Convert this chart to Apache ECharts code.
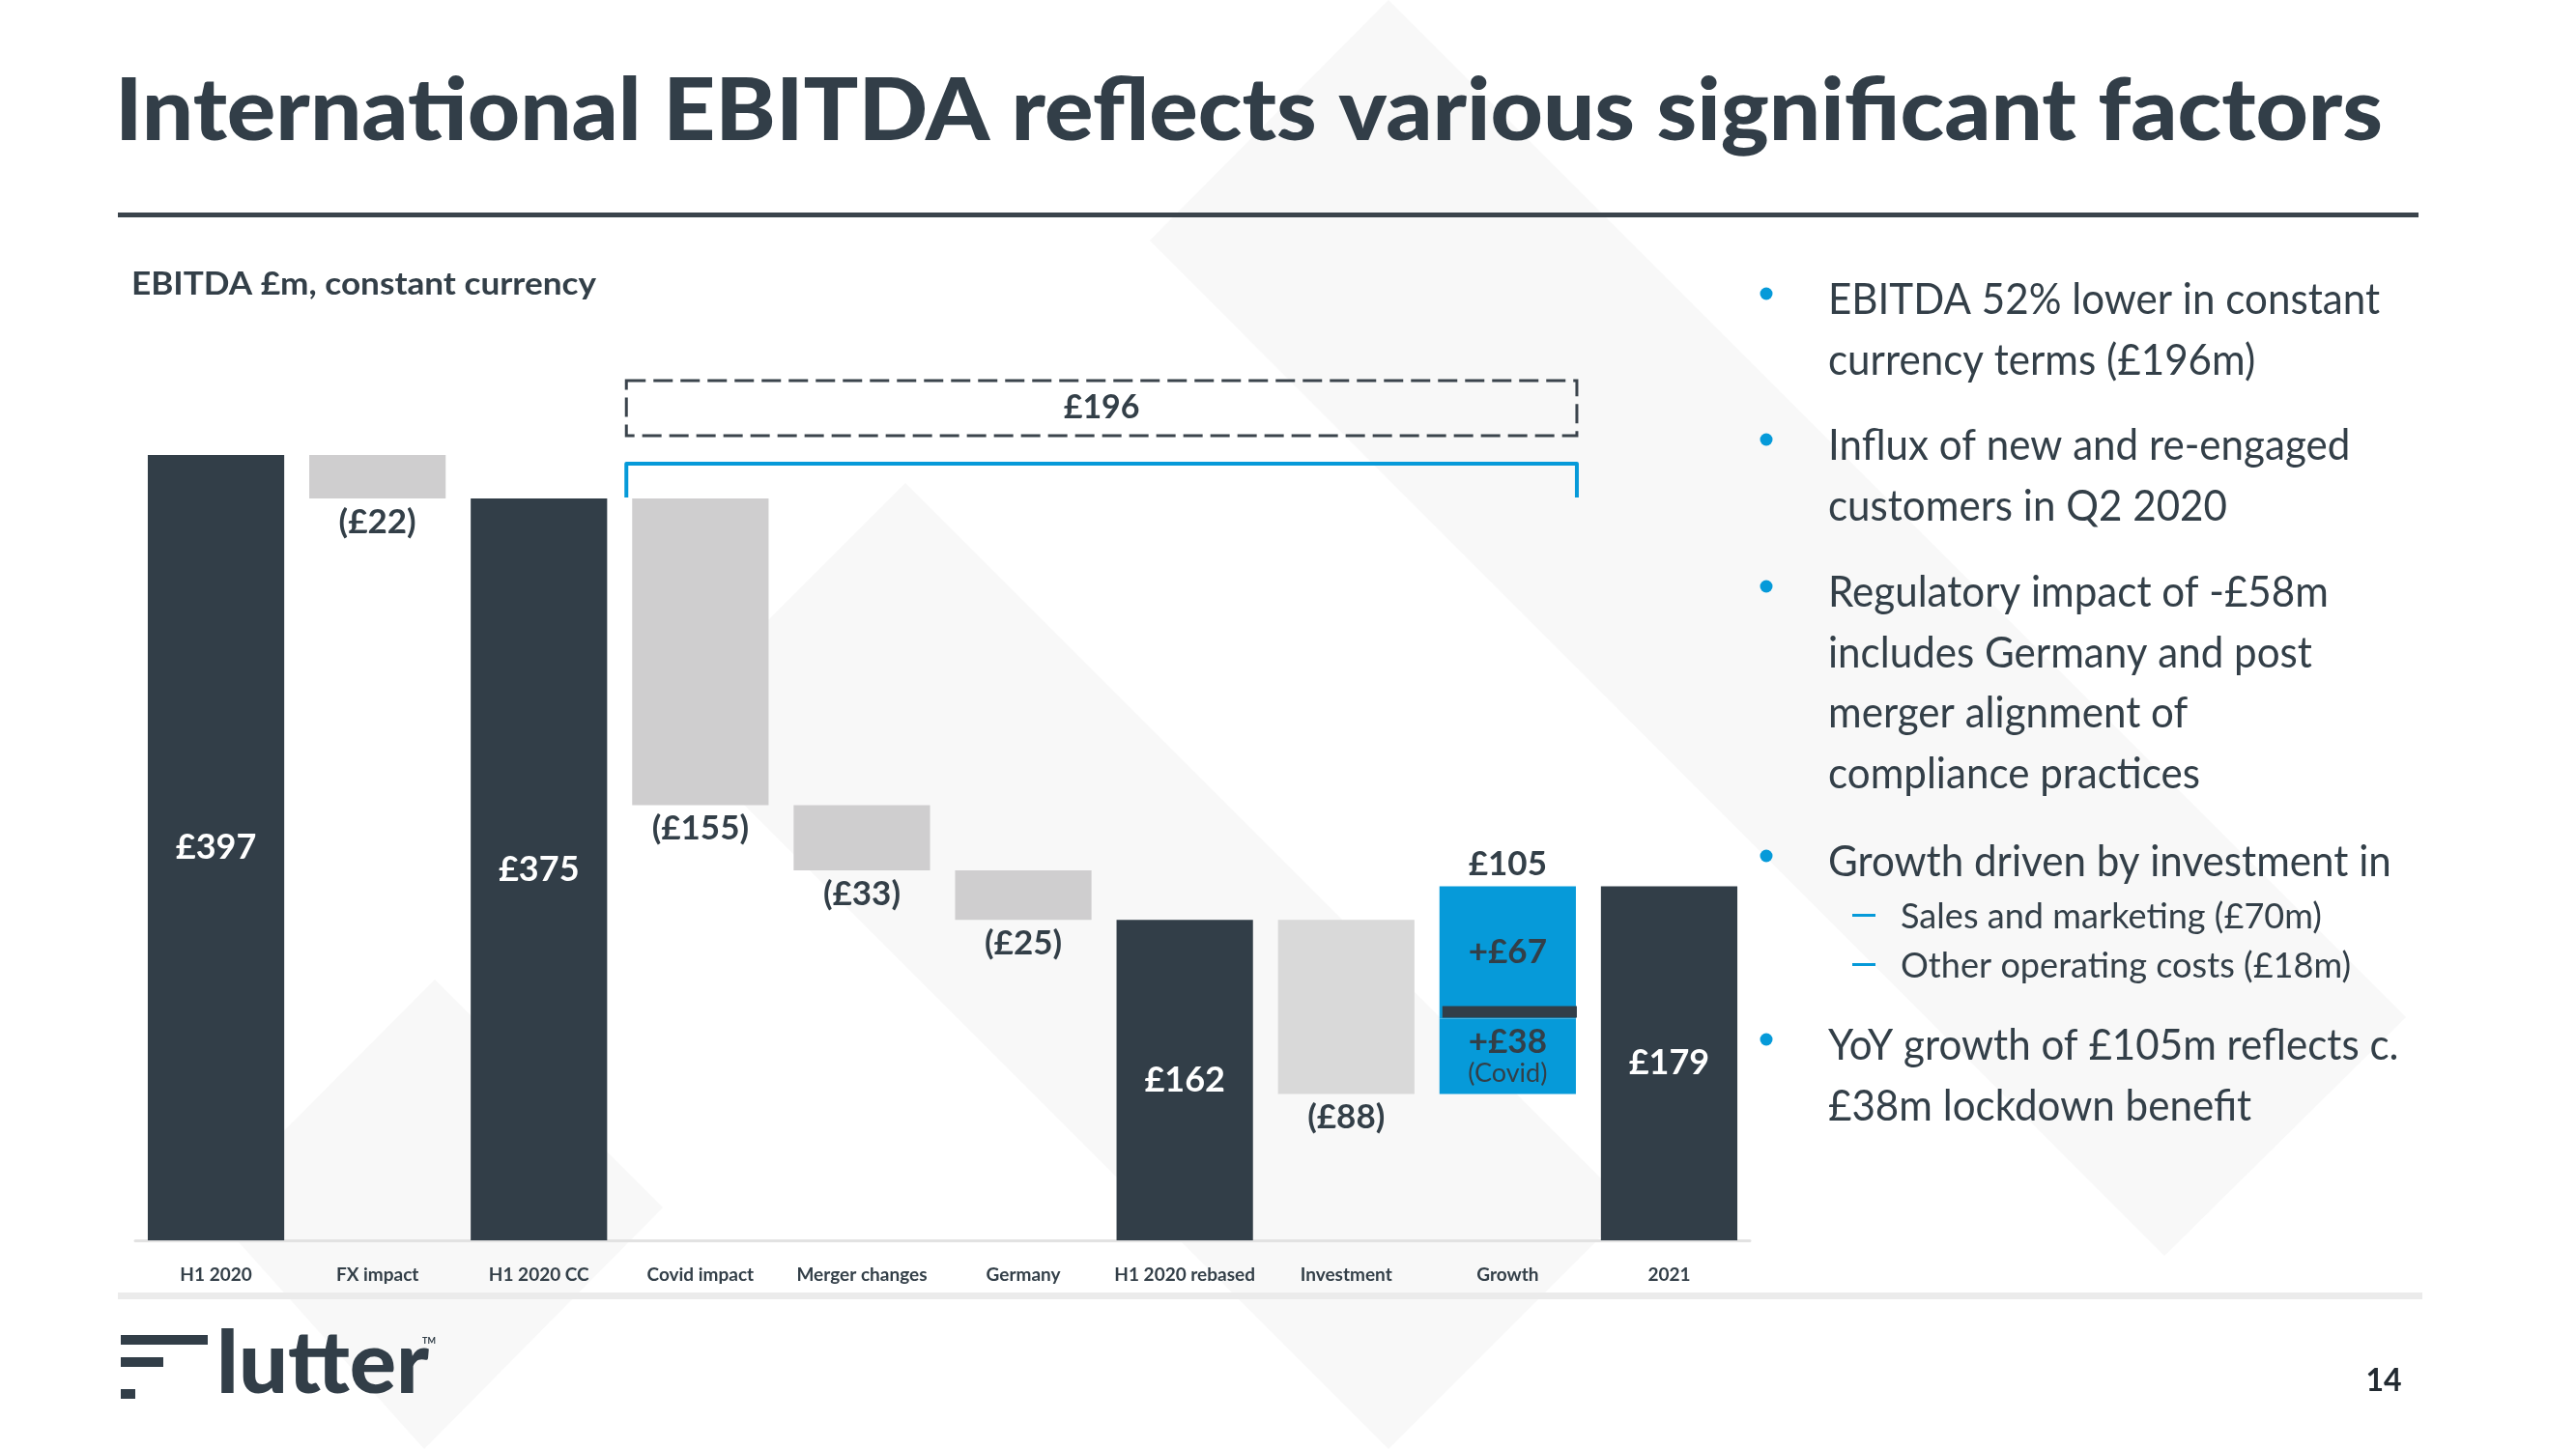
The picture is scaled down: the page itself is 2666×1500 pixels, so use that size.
<!DOCTYPE html>
<html><head><meta charset="utf-8">
<script src="https://cdn.jsdelivr.net/npm/echarts@6/dist/echarts.min.js"></script>
<style>html,body{margin:0;padding:0;background:#fff}#c{width:2666px;height:1500px}</style>
</head><body><div id="c"></div>
<script>
// ---------------- DATA ----------------
const categories = ['H1 2020','FX impact','H1 2020 CC','Covid impact','Merger changes','Germany','H1 2020 rebased','Investment','Growth','2021'];
const values = [397, -22, 375, -155, -33, -25, 162, -88, 105, 179];
const isTotal = [true, false, true, false, false, false, true, false, false, true];
const growthCovid = 38;
const growthCore = 67;
const covidNote = '(Covid)';
const bracketFrom = 'Covid impact';
const bracketTo = 'Growth';
const bracketRef = 'H1 2020 CC';
const bracketEnd = '2021';
const titleText = 'International EBITDA reflects various significant factors';
const subtitleText = 'EBITDA £m, constant currency';
const bulletParas = [
  ['EBITDA 52% lower in constant', 'currency terms (£196m)'],
  ['Influx of new and re-engaged', 'customers in Q2 2020'],
  ['Regulatory impact of -£58m', 'includes Germany and post', 'merger alignment of', 'compliance practices'],
  ['Growth driven by investment in'],
  ['YoY growth of £105m reflects c.', '£38m lockdown benefit']
];
const subBullets = ['Sales and marketing (£70m)', 'Other operating costs (£18m)'];
const pageNumber = '14';

// ---------------- BUILD ----------------
const DARK = '#323e48', TXT = '#333f48', BLUE = '#069ad9';
const base = [], totals = [], decs = [], covid = [], core = [];
let running = 0, growthIdx = -1, sepVal = 0;
values.forEach((v, i) => {
  if (isTotal[i]) { base.push('-'); totals.push(v); decs.push('-'); covid.push('-'); core.push('-'); running = v; }
  else if (v < 0) { base.push(running + v); totals.push('-'); decs.push(-v); covid.push('-'); core.push('-'); running += v; }
  else { base.push(running); totals.push('-'); decs.push('-'); covid.push(growthCovid); core.push(growthCore); growthIdx = i; sepVal = running + growthCovid; running += v; }
});
const fromIdx = categories.indexOf(bracketFrom), toIdx = categories.indexOf(bracketTo);
const refVal = values[categories.indexOf(bracketRef)];
const endVal = values[categories.indexOf(bracketEnd)];
const BAR_RATIO = 0.845;

const cv = document.createElement('canvas').getContext('2d');
function scaleFor(text, font, target) { cv.font = font; return target / cv.measureText(text).width; }

const F = 'Lato';
const graphics = [];
// faint background watermark shapes
const WM = '#f8f8f8';
[
  [[1437, 0], [2490, 1053], [2240, 1300], [1190, 249]],
  [[937, 500], [1687, 1250], [1437, 1500], [687, 750]],
  [[450, 1014], [686, 1250], [439, 1500], [215, 1250]]
].forEach(pts => graphics.push({type:'polygon', z:-100, silent:true, shape:{points:pts}, style:{fill:WM}}));
// title
const titleFont = '900 89px ' + F;
graphics.push({type:'text', x:119, y:116, scaleX: scaleFor(titleText, titleFont, 2347), z:10,
  style:{text:titleText, font:titleFont, fill:DARK, textVerticalAlign:'middle', verticalAlign:'middle'}});
graphics.push({type:'rect', shape:{x:122, y:220, width:2381, height:5}, style:{fill:'#3b444c'}});
// subtitle
const subFont = 'bold 32px ' + F;
graphics.push({type:'text', x:136, y:295, scaleX: scaleFor(subtitleText, subFont, 481),
  style:{text:subtitleText, font:subFont, fill:TXT, textVerticalAlign:'middle', verticalAlign:'middle'}});
// bottom separator
graphics.push({type:'rect', shape:{x:122, y:1338, width:2385, height:7}, style:{fill:'#ebebeb'}});
// logo
graphics.push({type:'rect', shape:{x:125, y:1382, width:90, height:10}, style:{fill:DARK}});
graphics.push({type:'rect', shape:{x:125, y:1405, width:44, height:10}, style:{fill:DARK}});
graphics.push({type:'rect', shape:{x:125, y:1438, width:15, height:10}, style:{fill:DARK}});
const logoFont = '900 90px ' + F;
graphics.push({type:'text', x:224, y:1413, scaleX: scaleFor('lutter', logoFont, 220),
  style:{text:'lutter', font:logoFont, fill:DARK, textVerticalAlign:'middle', verticalAlign:'middle'}});
graphics.push({type:'text', x:437, y:1388, style:{text:'TM', font:'bold 9px ' + F, fill:DARK, textVerticalAlign:'middle', verticalAlign:'middle'}});
// page number
graphics.push({type:'text', x:2467, y:1430, style:{text:pageNumber, font:'bold 32px ' + F, fill:'#222a31', textAlign:'center', align:'center', textVerticalAlign:'middle', verticalAlign:'middle'}});
// bullets
const bFont = '44px ' + F;
const bScale = scaleFor(bulletParas[0][0], bFont, 571);
const paraY = [311, 462, 614, 893, 1083];
const lineStep = 62.5;
bulletParas.forEach((para, p) => {
  graphics.push({type:'circle', shape:{cx:1828, cy:paraY[p] - 7, r:6.5}, style:{fill:BLUE}});
  para.forEach((line, k) => {
    graphics.push({type:'text', x:1892, y:paraY[p] + k * lineStep, scaleX:bScale,
      style:{text:line, font:bFont, fill:TXT, textVerticalAlign:'middle', verticalAlign:'middle'}});
  });
});
const sFont = '36px ' + F;
const sScale = scaleFor(subBullets[0], sFont, 436);
const subY = [949, 1000];
subBullets.forEach((line, k) => {
  graphics.push({type:'rect', shape:{x:1917, y:subY[k] - 3, width:24, height:3}, style:{fill:BLUE}});
  graphics.push({type:'text', x:1967, y:subY[k], scaleX:sScale,
    style:{text:line, font:sFont, fill:TXT, textVerticalAlign:'middle', verticalAlign:'middle'}});
});

const lblDark = {fontFamily:F, fontWeight:'bold', fontSize:35, color:TXT};

const option = {
  animation: false,
  backgroundColor: '#ffffff',
  graphic: graphics,
  grid: {left:140, right:855, top:362.4, bottom:216, containLabel:false},
  xAxis: {type:'category', data:categories,
    axisLine:{show:true, lineStyle:{color:'#e2e2e2', width:3}},
    axisTick:{show:false},
    axisLabel:{fontFamily:F, fontWeight:'bold', fontSize:19, color:TXT, margin:26, interval:0}},
  yAxis: {type:'value', min:0, max:450, show:false, splitLine:{show:false}},
  series: [
    {name:'base', type:'bar', stack:'w', data:base, barCategoryGap:'15.5%', itemStyle:{color:'rgba(0,0,0,0)'}, silent:true},
    {name:'total', type:'bar', stack:'w', data:totals, itemStyle:{color:DARK},
      label:{show:true, position:'inside', formatter:p => '£' + p.value, fontFamily:F, fontWeight:'bold', fontSize:36, color:'#ffffff'}},
    {name:'decrease', type:'bar', stack:'w', data:decs,
      itemStyle:{color: p => p.name === 'Investment' ? '#d9d9d9' : '#cfcecf'},
      label:Object.assign({show:true, position:'bottom', distance:7, formatter:p => '(£' + p.value + ')'}, lblDark)},
    {name:'growthCovid', type:'bar', stack:'w', data:covid, itemStyle:{color:BLUE},
      label:{show:true, position:'inside', formatter:p => '{a|+£' + p.value + '}\n{b|' + covidNote + '}',
        rich:{a:{fontFamily:F, fontWeight:'bold', fontSize:35, color:TXT, lineHeight:36},
              b:{fontFamily:F, fontSize:27, color:TXT, lineHeight:30}}}},
    {name:'growthCore', type:'bar', stack:'w', data:core, itemStyle:{color:BLUE},
      label:Object.assign({show:true, position:'inside', formatter:p => '+£' + p.value}, lblDark)},
    {name:'growthMarks', type:'custom', clip:false, silent:true, z:5,
      data:[[growthIdx, sepVal, running, values[growthIdx]]],
      renderItem:(params, api) => {
        const bw = api.size([1, 0])[0] * BAR_RATIO;
        const c = api.coord([api.value(0), api.value(1)]);
        const t = api.coord([api.value(0), api.value(2)]);
        return {type:'group', children:[
          {type:'rect', shape:{x:c[0] - bw / 2 + 3, y:c[1] - 13, width:bw - 2, height:12}, style:{fill:DARK}},
          {type:'text', x:t[0], y:t[1] - 23, style:{text:'£' + api.value(3), font:'bold 35px ' + F, fill:TXT, textAlign:'center', align:'center', textVerticalAlign:'middle', verticalAlign:'middle'}}
        ]};
      }},
    {name:'bracket', type:'custom', clip:false, silent:true, z:5,
      data:[[fromIdx, refVal, toIdx, refVal - endVal]],
      renderItem:(params, api) => {
        const bw = api.size([1, 0])[0] * BAR_RATIO;
        const a = api.coord([api.value(0), api.value(1)]);
        const b = api.coord([api.value(2), api.value(1)]);
        const L = a[0] - bw / 2 - 6, R = b[0] + bw / 2 + 1;
        const legBottom = a[1] - 1, top = legBottom - 35;
        const boxTop = top - 86, boxBot = top - 29;
        return {type:'group', children:[
          {type:'polyline', shape:{points:[[L, legBottom], [L, top], [R, top], [R, legBottom]]},
            style:{stroke:BLUE, lineWidth:4, fill:'none', lineJoin:'round'}},
          {type:'rect', shape:{x:L, y:boxTop, width:R - L, height:boxBot - boxTop},
            style:{fill:'none', stroke:'#3b444c', lineWidth:3, lineDash:[20, 8]}},
          {type:'text', x:(L + R) / 2, y:(boxTop + boxBot) / 2, style:{text:'£' + api.value(3), font:'bold 34px ' + F, fill:TXT, textAlign:'center', align:'center', textVerticalAlign:'middle', verticalAlign:'middle'}}
        ]};
      }}
  ]
};
const chart = echarts.init(document.getElementById('c'), null, {renderer:'canvas'});
chart.setOption(option);
</script>
</body></html>
